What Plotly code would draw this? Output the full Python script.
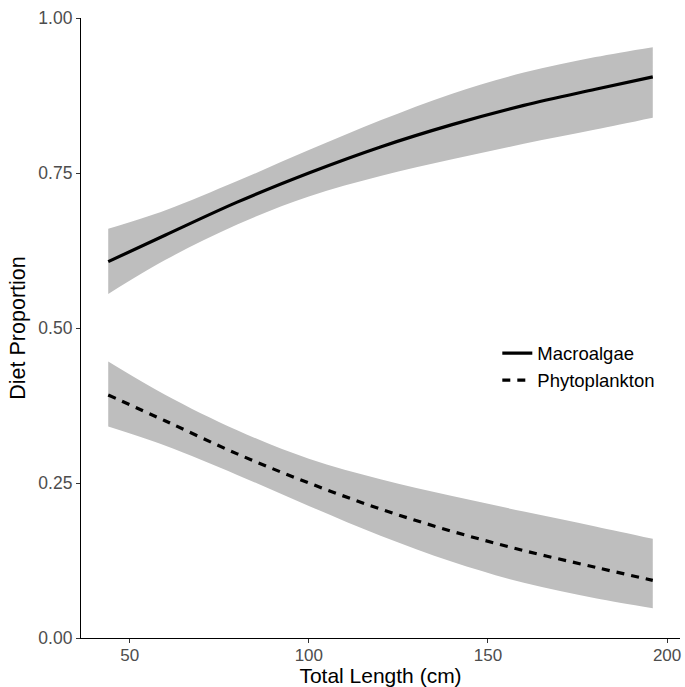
import plotly.graph_objects as go

# Total length (cm) at which fitted diet proportions are shown
length_cm = [44, 60, 80, 100, 120, 140, 160, 180, 196]

# Macroalgae: fitted proportion and 95% interval
macro_fit = [0.607, 0.650, 0.703, 0.750, 0.792, 0.828, 0.859, 0.885, 0.905]
macro_hi = [0.660, 0.690, 0.737, 0.787, 0.835, 0.878, 0.912, 0.937, 0.953]
macro_lo = [0.555, 0.610, 0.667, 0.712, 0.745, 0.772, 0.797, 0.820, 0.839]

# Phytoplankton: fitted proportion and 95% interval
phyto_fit = [0.392, 0.350, 0.297, 0.250, 0.208, 0.172, 0.141, 0.114, 0.093]
phyto_hi = [0.446, 0.392, 0.335, 0.289, 0.256, 0.229, 0.204, 0.180, 0.160]
phyto_lo = [0.341, 0.310, 0.263, 0.213, 0.165, 0.123, 0.089, 0.064, 0.048]

x_ticks = [50, 100, 150, 200]
y_ticks = [0.00, 0.25, 0.50, 0.75, 1.00]

band_color = "rgb(190,190,190)"
font_family = "Liberation Sans, Arial, sans-serif"

fig = go.Figure()


def add_band(lo, hi):
    fig.add_trace(go.Scatter(
        x=length_cm, y=lo, mode="lines", line=dict(width=0, shape="spline"),
        showlegend=False, hoverinfo="skip"))
    fig.add_trace(go.Scatter(
        x=length_cm, y=hi, mode="lines", line=dict(width=0, shape="spline"),
        fill="tonexty", fillcolor=band_color,
        showlegend=False, hoverinfo="skip"))


add_band(macro_lo, macro_hi)
add_band(phyto_lo, phyto_hi)

fig.add_trace(go.Scatter(
    x=length_cm, y=macro_fit, mode="lines", name="Macroalgae",
    line=dict(color="black", width=3.2, shape="spline")))
fig.add_trace(go.Scatter(
    x=length_cm, y=phyto_fit, mode="lines", name="Phytoplankton",
    line=dict(color="black", width=3.2, shape="spline", dash="8px,7px")))

fig.update_layout(
    width=685, height=687,
    margin=dict(l=81, r=5, t=18, b=49),
    paper_bgcolor="white", plot_bgcolor="white",
    font=dict(family=font_family, color="black"),
    legend=dict(
        x=0.695, y=0.437, xanchor="left", yanchor="middle",
        traceorder="normal",
        bgcolor="rgba(0,0,0,0)", font=dict(size=18.5, color="black"),
        tracegroupgap=0, itemwidth=30,
    ),
    xaxis=dict(
        range=[36.4, 203.6], tickvals=x_ticks, ticktext=[str(v) for v in x_ticks],
        showgrid=False, zeroline=False, automargin=False,
        showline=True, linecolor="black", linewidth=1.2,
        ticks="outside", ticklen=4, tickcolor="#333333", tickwidth=1,
        ticklabelstandoff=-3,
        tickfont=dict(size=17, color="#4D4D4D"),
        title=dict(text="Total Length (cm)", font=dict(size=21, color="black"), standoff=5),
    ),
    yaxis=dict(
        range=[0, 1], tickvals=y_ticks, ticktext=[f"{v:.2f}" for v in y_ticks],
        showgrid=False, zeroline=False, automargin=False,
        showline=True, linecolor="black", linewidth=1.2,
        ticks="outside", ticklen=4, tickcolor="#333333", tickwidth=1,
        tickfont=dict(size=17.5, color="#4D4D4D"),
        title=dict(text="Diet Proportion", font=dict(size=21.5, color="black"), standoff=6),
    ),
)

fig.write_html("out.html")
